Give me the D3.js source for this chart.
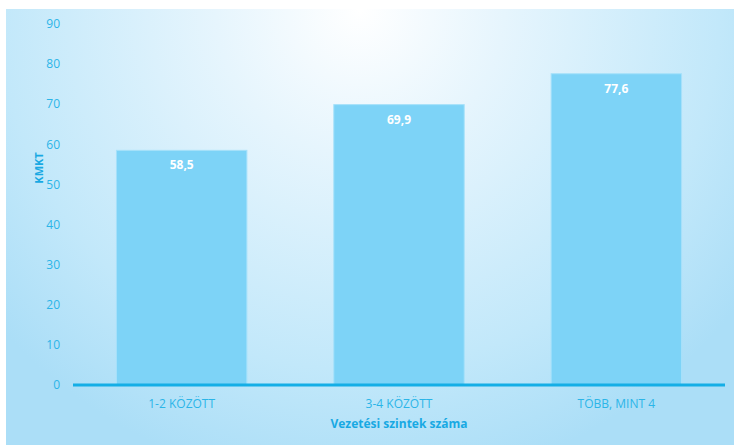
<!DOCTYPE html>
<html>
<head>
<meta charset="utf-8">
<script src="https://cdn.jsdelivr.net/npm/d3@7"></script>
<style>
  body { margin: 0; background: #ffffff; }
  text { font-family: "Open Sans", "Noto Sans", sans-serif; }
</style>
</head>
<body>
<div id="chart"></div>
<script>
// Data
const categories = ["1-2 KÖZÖTT", "3-4 KÖZÖTT", "TÖBB, MINT 4"]
const values = [58.5, 69.9, 77.6]
const yTicks = [0, 10, 20, 30, 40, 50, 60, 70, 80, 90]

const width = 734, height = 445
const svg = d3.select("#chart").append("svg")
  .attr("width", width)
  .attr("height", height)

// Background gradient
const defs = svg.append("defs")
const grad = defs.append("radialGradient")
  .attr("id", "bg")
  .attr("gradientUnits", "userSpaceOnUse")
  .attr("cx", 360).attr("cy", 10).attr("r", 480)
grad.append("stop").attr("offset", "0%").attr("stop-color", "#ffffff")
grad.append("stop").attr("offset", "30%").attr("stop-color", "#e6f5fd")
grad.append("stop").attr("offset", "75%").attr("stop-color", "#c2e8fa")
grad.append("stop").attr("offset", "100%").attr("stop-color", "#abdef7")

svg.append("rect")
  .attr("x", 6).attr("y", 9)
  .attr("width", width - 6).attr("height", height - 9)
  .attr("fill", "url(#bg)")

const margin = { left: 73, right: 9 }
const x = d3.scaleBand()
  .domain(categories)
  .range([margin.left, width - margin.right])
  .paddingInner(0.4)
  .paddingOuter(0.2)

const y = d3.scaleLinear()
  .domain([0, 90])
  .range([385, 24])

const tickColor = "#2bb5e8"

// Y tick labels
svg.append("g")
  .selectAll("text")
  .data(yTicks)
  .join("text")
  .attr("x", 60)
  .attr("y", d => y(d))
  .attr("dy", "0.35em")
  .attr("text-anchor", "end")
  .attr("font-size", "12px")
  .attr("fill", tickColor)
  .text(d => d)

// Bars
svg.append("g")
  .selectAll("rect")
  .data(values)
  .join("rect")
  .attr("x", (d, i) => x(categories[i]))
  .attr("y", d => y(d))
  .attr("width", x.bandwidth())
  .attr("height", d => y(0) - y(d))
  .attr("fill", "#7dd3f7")
  .attr("stroke", "#a6e1fa")
  .attr("stroke-width", 1)

// Value labels
svg.append("g")
  .selectAll("text")
  .data(values)
  .join("text")
  .attr("x", (d, i) => x(categories[i]) + x.bandwidth() / 2)
  .attr("y", d => y(d) + 19)
  .attr("text-anchor", "middle")
  .attr("font-size", "12px")
  .attr("font-weight", "bold")
  .attr("fill", "#ffffff")
  .text(d => d.toFixed(1).replace(".", ","))

// X axis line
svg.append("line")
  .attr("x1", margin.left).attr("x2", width - margin.right)
  .attr("y1", y(0)).attr("y2", y(0))
  .attr("stroke", "#14aee6")
  .attr("stroke-width", 3)

// X tick labels
svg.append("g")
  .selectAll("text")
  .data(categories)
  .join("text")
  .attr("x", d => x(d) + x.bandwidth() / 2)
  .attr("y", 408)
  .attr("text-anchor", "middle")
  .attr("font-size", "12px")
  .attr("fill", tickColor)
  .text(d => d)

// Axis titles
svg.append("text")
  .attr("x", 399)
  .attr("y", 428)
  .attr("text-anchor", "middle")
  .attr("font-size", "12px")
  .attr("font-weight", "bold")
  .attr("fill", "#18a9e3")
  .text("Vezetési szintek száma")

svg.append("text")
  .attr("transform", "translate(43,168) rotate(-90)")
  .attr("text-anchor", "middle")
  .attr("font-size", "11px")
  .attr("font-weight", "bold")
  .attr("fill", "#18a9e3")
  .text("KMKT")
</script>
</body>
</html>
